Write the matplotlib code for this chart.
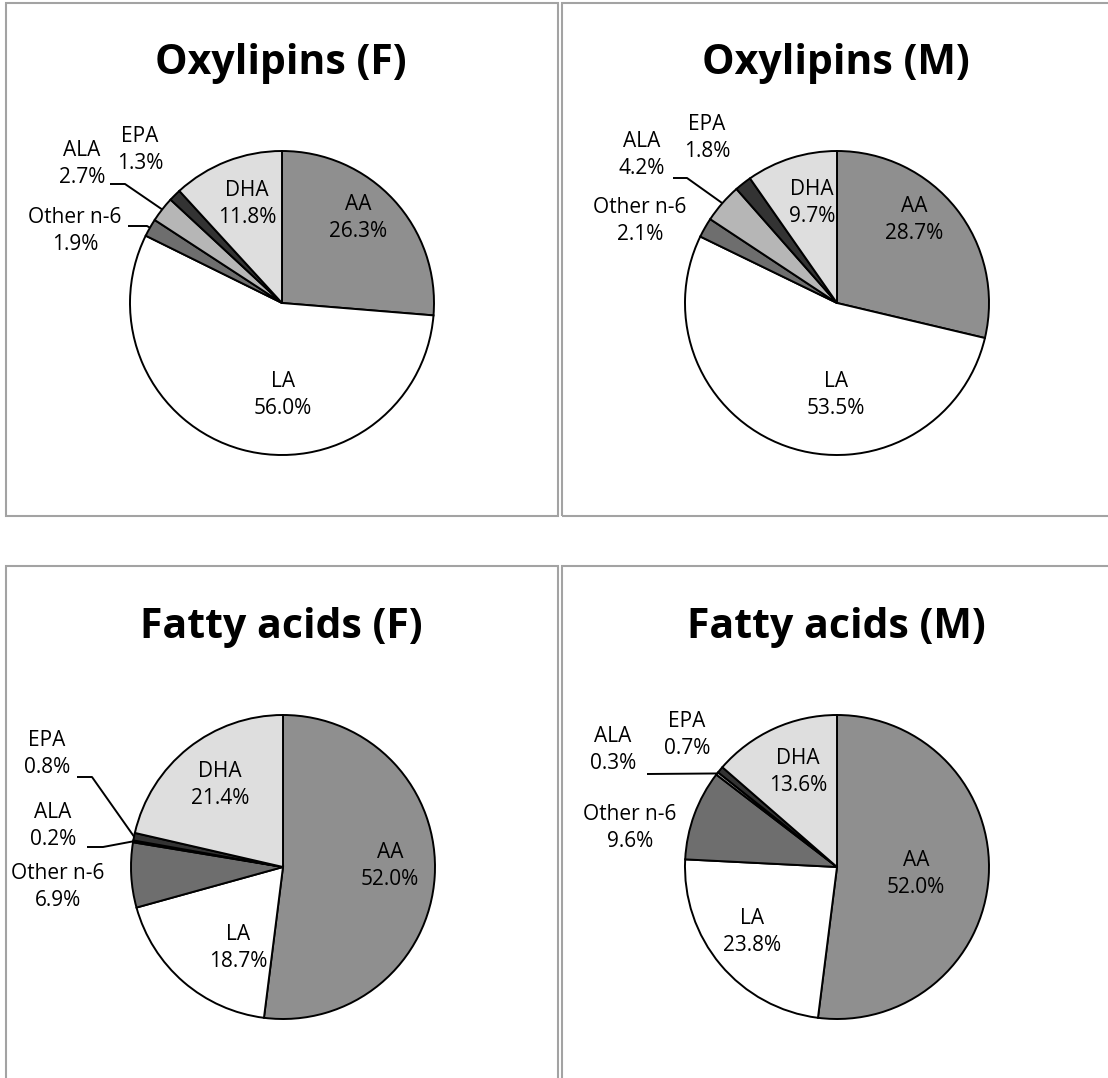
import numpy as np
import matplotlib
matplotlib.use("Agg")
import matplotlib.pyplot as plt
from matplotlib.patches import Rectangle

W, H = 1108, 1078

categories = ["AA", "LA", "Other n-6", "ALA", "EPA", "DHA"]
oxylipins_f = [26.3, 56.0, 1.9, 2.7, 1.3, 11.8]
oxylipins_m = [28.7, 53.5, 2.1, 4.2, 1.8, 9.7]
fatty_acids_f = [52.0, 18.7, 6.9, 0.2, 0.8, 21.4]
fatty_acids_m = [52.0, 23.8, 9.6, 0.3, 0.7, 13.6]
titles = ["Oxylipins (F)", "Oxylipins (M)", "Fatty acids (F)", "Fatty acids (M)"]

colors = ["#8f8f8f", "#ffffff", "#6e6e6e", "#b6b6b6", "#333333", "#dedede"]

FONT = ["Open Sans", "DejaVu Sans"]
R = 152

# panel layout in pixels (y measured from the top)
panels = [
    dict(values=oxylipins_f, box=(6, 3, 558, 516), center=(282, 303), title_y=63, title_x=281,
         labels={"AA": (358, 218), "LA": (283, 395), "DHA": (247, 204),
                 "Other n-6": (75, 231), "ALA": (82, 164), "EPA": (140, 150)},
         leaders={"ALA": (110, 184, 125), "Other n-6": (128, 226, 147)}),
    dict(values=oxylipins_m, box=(562, 3, 1125, 516), center=(837, 303), title_y=63, title_x=836,
         labels={"AA": (914, 220), "LA": (836, 395), "DHA": (812, 203),
                 "Other n-6": (640, 221), "ALA": (642, 155), "EPA": (707, 138)},
         leaders={"ALA": (673, 178, 687)}),
    dict(values=fatty_acids_f, box=(6, 566, 558, 1095), center=(283, 867), title_y=627, title_x=281,
         labels={"AA": (390, 866), "LA": (238, 948), "DHA": (220, 785),
                 "Other n-6": (58, 887), "ALA": (53, 826), "EPA": (47, 754)},
         leaders={"EPA": (77, 777, 92), "ALA": (87, 847, 103)}),
    dict(values=fatty_acids_m, box=(562, 566, 1125, 1095), center=(837, 867), title_y=627, title_x=836,
         labels={"AA": (916, 874), "LA": (752, 932), "DHA": (798, 772),
                 "Other n-6": (630, 828), "ALA": (613, 750), "EPA": (687, 735)},
         leaders={"ALA": (647, 774, 647)}),
]

fig = plt.figure(figsize=(W / 100, H / 100), dpi=100)
ax = fig.add_axes([0, 0, 1, 1])

for title, p in zip(titles, panels):
    x0, y0, x1, y1 = p["box"]
    ax.add_patch(Rectangle((x0, H - y1), x1 - x0, y1 - y0, fill=False,
                           edgecolor="#a3a3a3", linewidth=1.5, clip_on=False, zorder=0))
    cx, cy = p["center"]
    wedges, _ = ax.pie(p["values"], colors=colors, startangle=90, counterclock=False,
                       center=(cx, H - cy), radius=R,
                       wedgeprops=dict(edgecolor="black", linewidth=1.4))
    ax.text(p["title_x"], H - p["title_y"], title,
            ha="center", va="center", fontsize=29.5, fontweight="bold", family=FONT)
    for cat, val, w in zip(categories, p["values"], wedges):
        lx, ly = p["labels"][cat]
        ax.text(lx, H - ly, f"{cat}\n{val:.1f}%", ha="center", va="center",
                fontsize=15, linespacing=1.4, family=FONT)
        if cat in p["leaders"]:
            xs, yl, xk = p["leaders"][cat]
            mid = np.deg2rad((w.theta1 + w.theta2) / 2)
            px, py = cx + R * np.cos(mid), (H - cy) + R * np.sin(mid)
            ax.plot([xs, xk, px], [H - yl, H - yl, py], color="black", lw=1.4,
                    solid_capstyle="butt")

ax.set_xlim(0, W)
ax.set_ylim(0, H)
ax.set_aspect("equal")
ax.axis("off")
fig.savefig("out.png", dpi=100)
